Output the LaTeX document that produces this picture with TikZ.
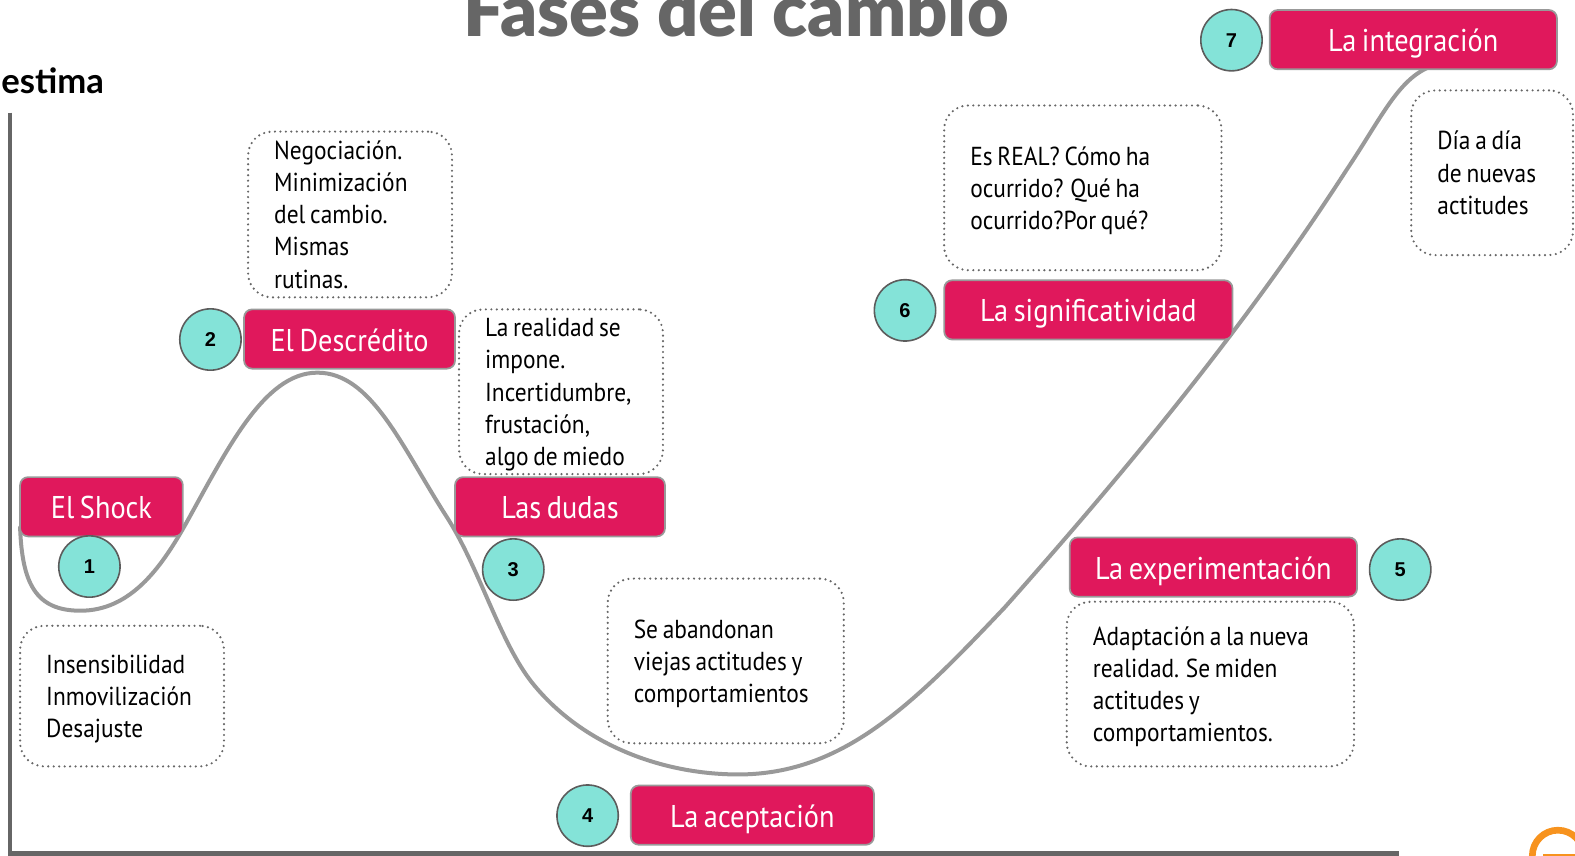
\documentclass[tikz,border=0pt]{standalone}
\usepackage{fontspec}
\setmainfont{PT Sans}
\newfontfamily\notefont[FakeStretch=0.9,WordSpace=0.75]{PT Sans}
\newfontfamily\headfont{Lato Black}
\newfontfamily\labelfont{Lato}
\newfontfamily\numfont{Liberation Sans}
\definecolor{pinkfill}{HTML}{E0185C}
\definecolor{tealfill}{HTML}{84E3D8}
\definecolor{axisgrey}{HTML}{666666}
\definecolor{curvegrey}{HTML}{999999}
\definecolor{logoorange}{HTML}{F7931E}
\tikzset{
  x=0.7533pt,y=-0.7533pt,
  phase/.style n args={2}{draw=curvegrey,line width=1.3pt,fill=pinkfill,rounded corners=6pt,text=white,
    minimum width=#1*0.7533pt,minimum height=#2*0.7533pt,inner sep=0pt,text height=21pt,text depth=3pt,
    font=\notefont\fontsize{23.6}{28}\selectfont},
  numdot/.style={circle,draw=axisgrey!90!black,line width=1.2pt,fill=tealfill,minimum size=46pt,inner sep=0pt,
    font=\numfont\bfseries\fontsize{15}{18}\selectfont,text=black},
  note/.style n args={2}{draw=axisgrey,line width=1.8pt,line cap=round,dash pattern=on 0pt off 4.1pt,rounded corners=18pt,
    minimum width=#1*0.7533pt,minimum height=#2*0.7533pt,inner xsep=19.6pt,inner ysep=0pt,
    text width=(#1-52)*0.7533pt,align=flush left,text=black,font=\notefont\fontsize{19.5}{24.1}\selectfont,
    execute at begin node={\rule{0pt}{19pt}},execute at end node={\rule[-5pt]{0pt}{5pt}}},
  axisline/.style={draw=axisgrey,line width=3.6pt},
  curveline/.style={draw=curvegrey,line width=3pt,line cap=round}
}
\begin{document}
\begin{tikzpicture}
\useasboundingbox (0,0) rectangle (1568,852);
\clip (0,0) rectangle (1568,852);
% title and axis label
\node[anchor=base,inner sep=0pt,text=axisgrey,font=\headfont\fontsize{54}{60}\selectfont] (title) at (733,36) {Fases del cambio};
\node[anchor=base west,inner sep=0pt,text=black,font=\labelfont\bfseries\fontsize{26}{30}\selectfont] (ylabel) at (1,93) {estima};
% axes
\coordinate (axtop) at (10,112);
\coordinate (axorigin) at (10,850);
\coordinate (axend) at (1393,850);
\draw[axisline] (axtop) -- (axorigin) -- (axend);
% curve
\draw[curveline] (20,525) .. controls (22,580) and (35,608) .. (80,608)
  .. controls (130,608) and (160,565) .. (183,525)
  .. controls (225,450) and (262,371) .. (316,371)
  .. controls (370,371) and (400,445) .. (445,515)
  .. controls (477,565) and (498,640) .. (530,680)
  .. controls (580,742) and (660,771) .. (735,771)
  .. controls (840,771) and (910,700) .. (1000,605)
  .. controls (1120,470) and (1240,325) .. (1340,170)
  .. controls (1375,118) and (1392,78) .. (1425,66);
% phases
\node[phase={162}{59}] (p1) at (101,504.5) {El Shock};
\node[phase={210}{59}] (p2) at (348,337.5) {El Descrédito};
\node[phase={209}{59}] (p3) at (557.5,504.5) {Las dudas};
\node[phase={242}{59}] (p4) at (749,811.5) {La aceptación};
\node[phase={286}{59}] (p5) at (1208,564.5) {La experimentación};
\node[phase={287}{59}] (p6) at (1083.5,308.5) {La significatividad};
\node[phase={286}{59}] (p7) at (1407,39.5) {La integración};
% numbers
\node[numdot] (n1) at (89,564) {1};
\node[numdot] (n2) at (209.5,338) {2};
\node[numdot] (n3) at (511,567) {3};
\node[numdot] (n4) at (585,812) {4};
\node[numdot] (n5) at (1394,567) {5};
\node[numdot] (n6) at (901,309) {6};
\node[numdot] (n7) at (1226,40) {7};
% notes
\node[note={203}{140}] (t1) at (121.5,693) {Insensibilidad\\Inmovilización\\Desajuste};
\node[note={203}{165}] (t2) at (348.5,213.5) {Negociación.\\Minimización\\del cambio.\\Mismas\\rutinas.};
\node[note={203}{164}] (t3) at (558.5,390) {La realidad se\\impone.\\Incertidumbre,\\frustación,\\algo de miedo};
\node[note={235}{164}] (t4) at (722.5,658) {Se abandonan\\viejas actitudes y\\comportamientos};
\node[note={286}{164}] (t5) at (1205,681) {Adaptación a la nueva\\realidad. Se miden\\actitudes y\\comportamientos.};
\node[note={276}{164}] (t6) at (1078,187) {Es REAL? Cómo ha\\ocurrido? Qué ha\\ocurrido?Por qué?};
\node[note={161}{164}] (t7) at (1485.5,172) {Día a día\\de nuevas\\actitudes};
% logo fragment
\draw[draw=logoorange,line width=5pt] (1551,852) circle (25.5);
\fill[logoorange] (1536,850) rectangle (1568,852);
\end{tikzpicture}
\end{document}
